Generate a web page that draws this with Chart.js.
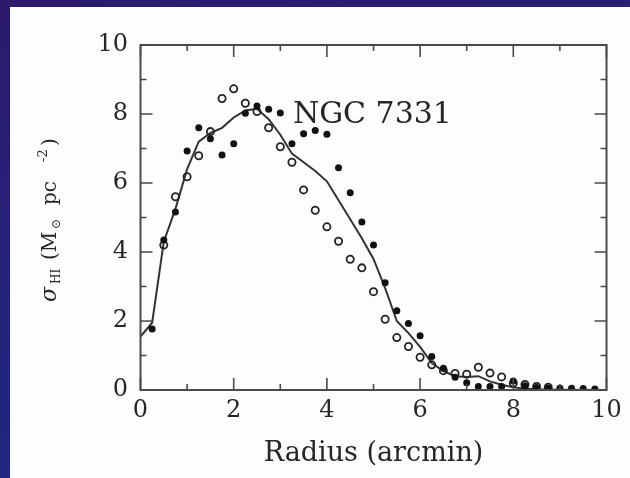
<!DOCTYPE html>
<html>
<head>
<meta charset="utf-8">
<title>NGC 7331</title>
<script src="https://cdn.jsdelivr.net/npm/chart.js"></script>
<style>
  html, body { margin: 0; padding: 0; }
  body {
    width: 630px; height: 478px; overflow: hidden; position: relative;
    background: linear-gradient(165deg, #2c1a6b 0%, #24237a 45%, #1b2c82 100%);
  }
  .panel { position: absolute; left: 10px; top: 7px; right: 0; bottom: 0; background: #fdfdfd; }
  .grafico { position: absolute; left: 0; top: 0; width: 630px; height: 478px; }
</style>
</head>
<body>
<div class="panel"></div>
<div class="grafico"><canvas id="miGrafico" width="630" height="478"></canvas></div>
<script>
// puntos llenos
const radioLlenos = [0.25, 0.5, 0.75, 1.0, 1.25, 1.5, 1.75, 2.0, 2.25, 2.5, 2.75, 3.0, 3.25, 3.5, 3.75, 4.0,
  4.25, 4.5, 4.75, 5.0, 5.25, 5.5, 5.75, 6.0, 6.25, 6.5, 6.75, 7.0, 7.25, 7.5, 7.75, 8.0, 8.25, 8.5, 8.75,
  9.0, 9.25, 9.5, 9.75];
const sigmaLlenos = [1.77, 4.35, 5.16, 6.93, 7.6, 7.28, 6.81, 7.14, 8.02, 8.23, 8.14, 8.03, 7.14, 7.43, 7.52, 7.41,
  6.44, 5.72, 4.87, 4.2, 3.11, 2.3, 1.93, 1.57, 0.97, 0.63, 0.37, 0.21, 0.1, 0.1, 0.1, 0.26, 0.12, 0.07, 0.06,
  0.05, 0.05, 0.04, 0.03];

// circulos abiertos
const radioAbiertos = [0.5, 0.75, 1.0, 1.25, 1.5, 1.75, 2.0, 2.25, 2.5, 2.75, 3.0, 3.25, 3.5, 3.75, 4.0,
  4.25, 4.5, 4.75, 5.0, 5.25, 5.5, 5.75, 6.0, 6.25, 6.5, 6.75, 7.0, 7.25, 7.5, 7.75, 8.0, 8.25, 8.5, 8.75];
const sigmaAbiertos = [4.2, 5.6, 6.18, 6.79, 7.49, 8.45, 8.73, 8.31, 8.07, 7.6, 7.05, 6.6, 5.8, 5.21, 4.73,
  4.31, 3.79, 3.54, 2.85, 2.05, 1.52, 1.26, 0.95, 0.73, 0.56, 0.48, 0.46, 0.66, 0.49, 0.38, 0.2, 0.16, 0.1, 0.08];

// curva continua
const radioCurva = [0, 0.25, 0.5, 0.75, 1.0, 1.25, 1.5, 1.75, 2.0, 2.25, 2.5, 2.75, 3.0, 3.25, 3.5, 3.75, 4.0,
  4.25, 4.5, 4.75, 5.0, 5.25, 5.5, 5.75, 6.0, 6.25, 6.5, 6.75, 7.0, 7.25, 7.5, 7.75, 8.0, 8.25, 8.5, 9.0, 10.0];
const sigmaCurva = [1.55, 1.95, 4.3, 5.25, 6.4, 7.2, 7.45, 7.6, 7.9, 8.1, 8.15, 7.85, 7.4, 6.85, 6.6, 6.35, 6.05,
  5.5, 4.95, 4.4, 3.8, 2.95, 2.0, 1.65, 1.25, 0.78, 0.55, 0.4, 0.38, 0.4, 0.25, 0.15, 0.08, 0.04, 0.02, 0.01, 0];

const ticksMayores = [0, 2, 4, 6, 8, 10];
const ticksMenores = [1, 3, 5, 7, 9];

const etiqueta = { texto: 'NGC 7331', x: 3.27, y: 7.73 };

const pares = (xs, ys) => xs.map((v, i) => ({ x: v, y: ys[i] }));
const tinta = '#262626';

const marcoEjes = {
  id: 'marcoEjes',
  afterDatasetsDraw(chart) {
    const { ctx, chartArea: a, scales: { x, y } } = chart;
    ctx.save();
    ctx.strokeStyle = '#4a4a4a';
    ctx.lineWidth = 2;
    ctx.strokeRect(a.left, a.top, a.right - a.left, a.bottom - a.top);
    ctx.lineWidth = 1.6;
    ctx.beginPath();
    const marcas = ticksMayores.map(v => [v, 12]).concat(ticksMenores.map(v => [v, 6]));
    marcas.forEach(([v, len]) => {
      const px = x.getPixelForValue(v);
      ctx.moveTo(px, a.bottom); ctx.lineTo(px, a.bottom - len);
      ctx.moveTo(px, a.top); ctx.lineTo(px, a.top + len);
      const py = y.getPixelForValue(v);
      ctx.moveTo(a.left, py); ctx.lineTo(a.left + len, py);
      ctx.moveTo(a.right, py); ctx.lineTo(a.right - len, py);
    });
    ctx.stroke();

    // nombre de la galaxia
    ctx.fillStyle = tinta;
    ctx.font = '30px "DejaVu Serif"';
    ctx.textBaseline = 'alphabetic';
    ctx.fillText(etiqueta.texto, x.getPixelForValue(etiqueta.x), y.getPixelForValue(etiqueta.y));

    // titulo del eje y, con sub y superindices
    ctx.translate(56, 302);
    ctx.rotate(-Math.PI / 2);
    const piezas = [
      ['σ', 0, 0, 'italic 22px'],
      ['HI', 18, 4, '12px'],
      ['(M', 42, 0, '20px'],
      ['⊙', 73, 4, '12px'],
      ['pc', 97, 0, '20px'],
      ['-2', 140, -9, '13px'],
      [')', 156, 0, '20px'],
    ];
    piezas.forEach(([t, u, dy, f]) => {
      ctx.font = f + ' "DejaVu Serif"';
      ctx.fillText(t, u, dy);
    });
    ctx.restore();
  }
};

Chart.defaults.font.family = '"DejaVu Serif"';
Chart.defaults.color = tinta;

new Chart(document.getElementById('miGrafico'), {
  type: 'scatter',
  data: {
    datasets: [
      {
        label: 'curva',
        type: 'line',
        data: pares(radioCurva, sigmaCurva),
        borderColor: '#333',
        borderWidth: 2,
        pointRadius: 0,
        tension: 0,
        fill: false,
        order: 3,
      },
      {
        label: 'abiertos',
        data: pares(radioAbiertos, sigmaAbiertos),
        pointRadius: 3.6,
        pointBorderWidth: 1.8,
        borderColor: '#222',
        backgroundColor: 'rgba(0,0,0,0)',
        order: 2,
      },
      {
        label: 'llenos',
        data: pares(radioLlenos, sigmaLlenos),
        pointRadius: 3.5,
        pointBorderWidth: 0,
        borderColor: '#111',
        backgroundColor: '#111',
        order: 1,
      },
    ],
  },
  options: {
    responsive: false,
    animation: false,
    layout: { padding: { left: 0, top: 45, right: 23.5, bottom: 0 } },
    plugins: { legend: { display: false }, tooltip: { enabled: false } },
    scales: {
      x: {
        type: 'linear',
        min: 0, max: 10,
        afterBuildTicks: (s) => { s.ticks = ticksMayores.map(v => ({ value: v })); },
        afterFit: (s) => { s.height = 88; },
        grid: { display: false, drawTicks: false },
        border: { display: false },
        ticks: { font: { size: 24 }, padding: 6, maxRotation: 0 },
        title: { display: true, text: 'Radius (arcmin)', font: { size: 27 }, padding: { top: 0, bottom: 8 } },
      },
      y: {
        type: 'linear',
        min: 0, max: 10,
        afterBuildTicks: (s) => { s.ticks = ticksMayores.map(v => ({ value: v })); },
        afterFit: (s) => { s.width = 140.5; },
        grid: { display: false, drawTicks: false },
        border: { display: false },
        ticks: { font: { size: 24 }, padding: 12.5 },
      },
    },
  },
  plugins: [marcoEjes],
});
</script>
</body>
</html>
